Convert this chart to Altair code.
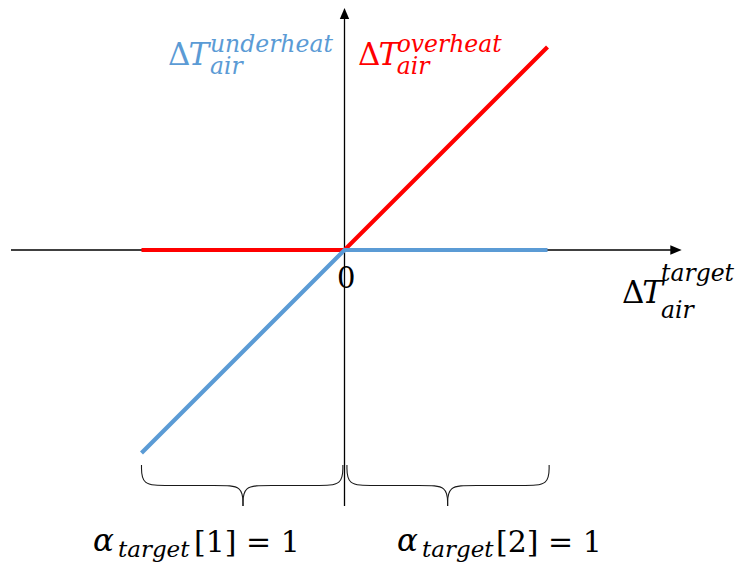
import altair as alt
import pandas as pd

# ---- data ----
line_x = [-1, 0, 1]
overheat_y = [0, 0, 1]      # red: ΔT_air^overheat
underheat_y = [-1, 0, 0]    # blue: ΔT_air^underheat
BLUE = "#5B9BD5"
RED = "#FF0000"

# ---- coordinate frame (data units) ----
XMIN, XMAX = -1.6576, 1.9236
YMIN, YMAX = -1.5419, 1.1921
W, H = 727, 555

xs = alt.Scale(domain=[XMIN, XMAX], nice=False, zero=False)
ys = alt.Scale(domain=[YMIN, YMAX], nice=False, zero=False)

def X(f="x"):
    return alt.X(f"{f}:Q", scale=xs, axis=None)

def Y(f="y"):
    return alt.Y(f"{f}:Q", scale=ys, axis=None)

# axes lines
axes_df = pd.DataFrame({
    "seg": ["h", "h", "v", "v"],
    "x": [-1.643, 1.613, 0.0, 0.0],
    "y": [0.0, 0.0, -1.261, 1.153],
})
axes = alt.Chart(axes_df).mark_line(color="black", strokeWidth=1.3).encode(
    x=X(), y=Y(), detail="seg:N")

arrow_r = alt.Chart(pd.DataFrame({"x": [1.633], "y": [0.0]})).mark_point(
    shape="M-1,-0.85L1,0L-1,0.85Z", filled=True, color="black", opacity=1, size=130, strokeWidth=0
).encode(x=X(), y=Y())
arrow_u = alt.Chart(pd.DataFrame({"x": [0.0], "y": [1.165]})).mark_point(
    shape="M-0.85,1L0,-1L0.85,1Z", filled=True, color="black", opacity=1, size=121, strokeWidth=0
).encode(x=X(), y=Y())

# main lines
lines_df = pd.DataFrame({
    "x": line_x + line_x,
    "y": overheat_y + underheat_y,
    "series": ["overheat"] * 3 + ["underheat"] * 3,
    "o": [0, 1, 2, 0, 1, 2],
})
red_line = alt.Chart(lines_df[lines_df.series == "overheat"]).mark_line(
    color=RED, strokeWidth=4.2, strokeCap="butt").encode(x=X(), y=Y(), order="o:Q")
blue_line = alt.Chart(lines_df[lines_df.series == "underheat"]).mark_line(
    color=BLUE, strokeWidth=4.2, strokeCap="butt").encode(x=X(), y=Y(), order="o:Q")

# braces (four quarters, basis-smoothed control polygons)
ytop, ymid, ybot = -1.059, -1.160, -1.261
rx = 0.12
rows = []
for name, x0, xc, x1 in [("L", -1.0, -0.5, -0.008), ("R", 0.012, 0.508, 1.008)]:
    q1 = [(x0, ytop), (x0, ymid), (x0 + rx, ymid), (xc - rx, ymid), (xc, ymid), (xc, ybot)]
    q2 = [(x1, ytop), (x1, ymid), (x1 - rx, ymid), (xc + rx, ymid), (xc, ymid), (xc, ybot)]
    for qn, q in (("a", q1), ("b", q2)):
        for i, (px, py) in enumerate(q):
            rows.append({"seg": name + qn, "x": px, "y": py, "o": i})
brace_df = pd.DataFrame(rows)
braces = alt.Chart(brace_df).mark_line(
    color="#1a1a1a", strokeWidth=1.1, interpolate="basis").encode(
    x=X(), y=Y(), detail="seg:N", order="o:Q")

# text annotations
ann = pd.DataFrame([
    # text, x, y, size, color, italic
    ("Δ", -0.869, 0.911, 31, BLUE, False),
    ("T", -0.769, 0.911, 31, BLUE, True),
    ("underheat", -0.663, 0.975, 23.5, BLUE, True),
    ("air", -0.663, 0.867, 23.5, BLUE, True),
    ("Δ", 0.0665, 0.911, 31, RED, False),
    ("T", 0.167, 0.911, 31, RED, True),
    ("overheat", 0.257, 0.975, 23.5, RED, True),
    ("air", 0.257, 0.867, 23.5, RED, True),
    ("Δ", 1.367, -0.261, 31, "black", False),
    ("T", 1.467, -0.261, 31, "black", True),
    ("target", 1.559, -0.153, 23.5, "black", True),
    ("air", 1.559, -0.335, 23.5, "black", True),
    ("0", -0.037, -0.187, 29, "black", False),
    ("α", -1.239, -1.483, 31, "black", True),
    ("target", -1.116, -1.512, 23, "black", True),
    ("[1] = 1", -0.741, -1.488, 30, "black", False),
    ("α", 0.259, -1.483, 31, "black", True),
    ("target", 0.382, -1.512, 23, "black", True),
    ("[2] = 1", 0.746, -1.488, 30, "black", False),
], columns=["text", "x", "y", "size", "color", "italic"])

def text_layer(df, style):
    return alt.Chart(df).mark_text(
        align="left", baseline="alphabetic", font="DejaVu Serif", fontStyle=style
    ).encode(
        x=X(), y=Y(), text="text:N",
        size=alt.Size("size:Q", scale=None, legend=None),
        color=alt.Color("color:N", scale=None, legend=None),
    )

txt_n = text_layer(ann[~ann.italic], "normal")
txt_i = text_layer(ann[ann.italic], "italic")

chart = alt.layer(
    axes, arrow_r, arrow_u, braces, red_line, blue_line, txt_n, txt_i
).properties(
    width=W, height=H, autosize=alt.AutoSizeParams(type="none"), padding=0,
    background="white",
).configure_view(stroke=None)

chart.save("out.html", embed_options={"renderer": "svg", "actions": False})
